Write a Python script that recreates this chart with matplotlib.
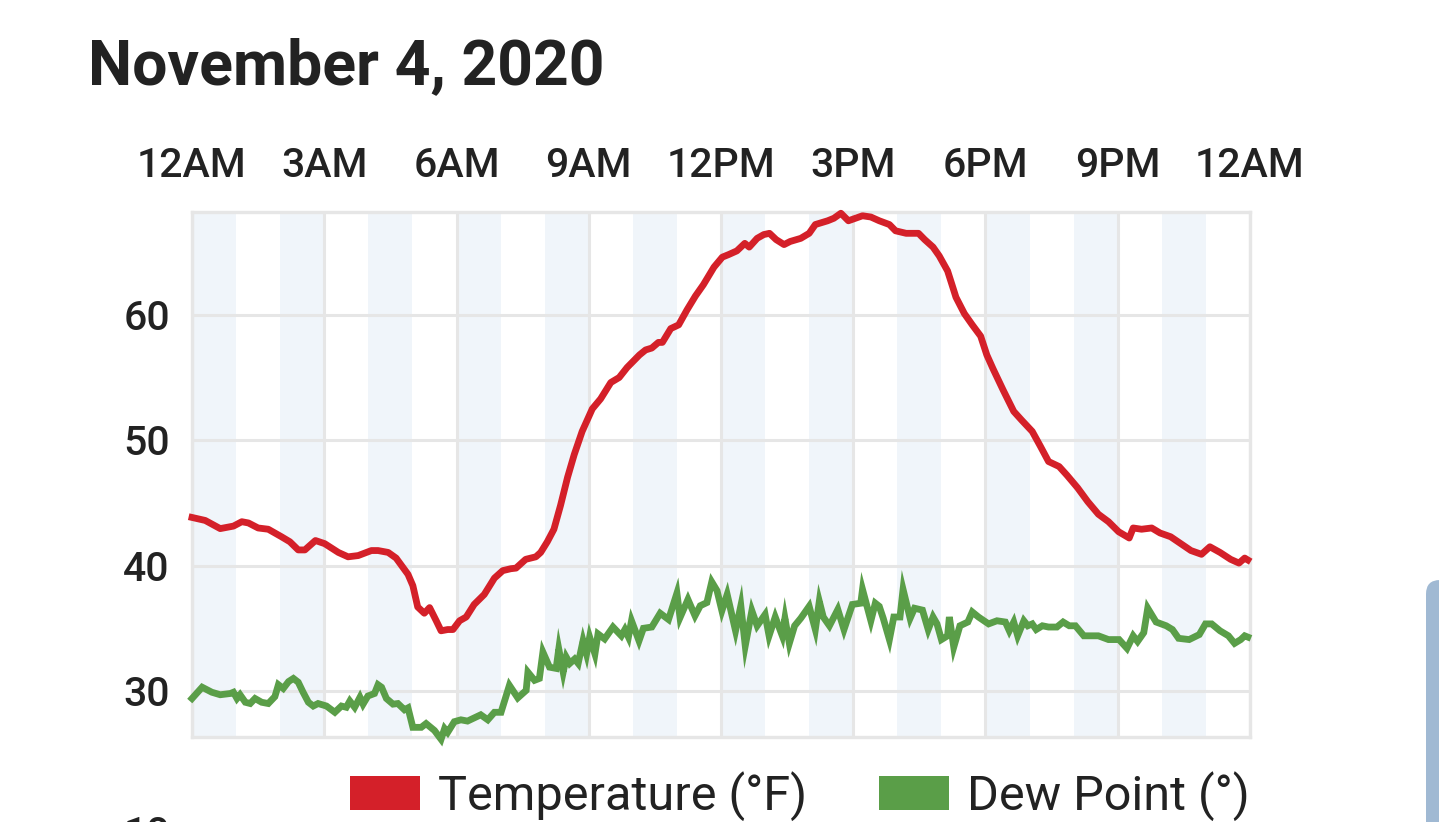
import matplotlib
matplotlib.use("Agg")
import matplotlib.pyplot as plt
from matplotlib.patches import Patch, FancyBboxPatch
from matplotlib.transforms import IdentityTransform

plt.rcParams['font.family'] = ['Roboto', 'DejaVu Sans']

# hours since midnight and readings
temp_hours = [0, 0.3, 0.64, 0.94, 1.13, 1.28, 1.5, 1.73, 2.03, 2.22,
              2.41, 2.56, 2.8, 3.01, 3.32, 3.54, 3.77, 4.07, 4.22, 4.45,
              4.63, 4.9, 5.01, 5.12, 5.27, 5.39, 5.54, 5.65, 5.8, 5.92,
              6.07, 6.22, 6.4, 6.63, 6.86, 7.05, 7.23, 7.35, 7.57, 7.8,
              7.91, 8.06, 8.21, 8.36, 8.52, 8.67, 8.85, 9.08, 9.27, 9.5,
              9.69, 9.87, 10.15, 10.29, 10.43, 10.58, 10.67, 10.86, 11.04, 11.23,
              11.42, 11.6, 11.84, 12.03, 12.17, 12.36, 12.54, 12.64, 12.82, 12.97,
              13.1, 13.25, 13.43, 13.57, 13.81, 14.0, 14.14, 14.42, 14.56, 14.72,
              14.89, 15.21, 15.4, 15.59, 15.82, 15.96, 16.2, 16.48, 16.62, 16.81,
              16.95, 17.14, 17.24, 17.33, 17.52, 17.7, 17.89, 18.03, 18.17, 18.4,
              18.64, 18.82, 19.06, 19.24, 19.43, 19.67, 19.85, 20.09, 20.32, 20.56,
              20.79, 21.02, 21.26, 21.35, 21.54, 21.77, 21.96, 22.2, 22.43, 22.66,
              22.9, 23.09, 23.32, 23.56, 23.75, 23.88, 23.95]
temp_vals = [43.84, 43.6, 42.95, 43.15, 43.5, 43.4, 43.0, 42.9, 42.3, 41.9,
             41.25, 41.25, 42.0, 41.75, 41.05, 40.7, 40.8, 41.2, 41.2, 41.05,
             40.6, 39.3, 38.4, 36.7, 36.2, 36.65, 35.6, 34.8, 34.9, 34.9,
             35.6, 35.9, 36.9, 37.7, 39.0, 39.6, 39.75, 39.8, 40.5, 40.7,
             41.05, 41.9, 42.9, 44.8, 47.05, 48.85, 50.7, 52.5, 53.3, 54.6,
             55.0, 55.8, 56.8, 57.2, 57.35, 57.8, 57.8, 58.9, 59.2, 60.4,
             61.5, 62.4, 63.8, 64.6, 64.8, 65.1, 65.7, 65.4, 66.1, 66.4,
             66.5, 66.0, 65.6, 65.85, 66.1, 66.5, 67.2, 67.5, 67.7, 68.1,
             67.5, 67.9, 67.8, 67.5, 67.2, 66.7, 66.5, 66.5, 66.0, 65.4,
             64.7, 63.5, 62.4, 61.4, 60.1, 59.2, 58.3, 56.8, 55.7, 54.0,
             52.3, 51.6, 50.7, 49.55, 48.3, 47.9, 47.2, 46.2, 45.1, 44.1,
             43.5, 42.7, 42.2, 43.0, 42.9, 43.0, 42.6, 42.3, 41.75, 41.2,
             40.9, 41.5, 41.05, 40.5, 40.2, 40.6, 40.45]

dew_hours = [0, 0.23, 0.45, 0.64, 0.87, 0.94, 1.02, 1.09, 1.21, 1.32,
             1.43, 1.58, 1.73, 1.88, 1.96, 2.07, 2.19, 2.3, 2.41, 2.52,
             2.64, 2.75, 2.86, 3.05, 3.24, 3.39, 3.5, 3.58, 3.69, 3.81,
             3.88, 3.99, 4.14, 4.22, 4.3, 4.41, 4.56, 4.67, 4.82, 4.9,
             5.01, 5.2, 5.31, 5.5, 5.65, 5.73, 5.8, 5.95, 6.1,
             6.25, 6.55, 6.71, 6.86, 7.01, 7.2, 7.39, 7.58, 7.62, 7.77,
             7.88, 7.96, 8.11, 8.26, 8.32, 8.42, 8.49, 8.57, 8.68, 8.76,
             8.87, 8.95, 9.02, 9.14, 9.21, 9.36, 9.55, 9.74, 9.82, 9.9,
             9.97, 10.14, 10.24, 10.43, 10.62, 10.81, 11.0, 11.07, 11.25, 11.41,
             11.53, 11.68, 11.79, 11.91, 12.02, 12.14, 12.33, 12.45, 12.55, 12.7,
             12.82, 13.0, 13.09,
             13.23, 13.39, 13.45, 13.55, 13.67, 13.81, 14.0, 14.14, 14.23, 14.32,
             14.46, 14.65, 14.79, 14.98, 15.17, 15.21, 15.4, 15.5, 15.59, 15.68,
             15.82, 15.92, 16.06, 16.13, 16.29, 16.39, 16.57, 16.7, 16.81, 16.9,
             17.0, 17.14, 17.18, 17.28, 17.42, 17.6, 17.7, 17.84, 18.07, 18.26,
             18.45, 18.54, 18.64, 18.73, 18.87, 18.96, 19.06, 19.15, 19.29, 19.43,
             19.62, 19.76, 19.9, 20.04, 20.23, 20.56, 20.79, 21.03, 21.21, 21.35,
             21.45, 21.59, 21.68, 21.87, 22.1, 22.24, 22.38, 22.62, 22.85, 22.99,
             23.13, 23.32, 23.51, 23.65, 23.79, 23.88, 23.95]
dew_vals = [29.4, 30.3, 29.9, 29.7, 29.8, 29.9, 29.4, 29.7, 29.1, 29.0,
            29.4, 29.1, 29.0, 29.55, 30.5, 30.2, 30.75, 31.0, 30.7, 29.9,
            29.1, 28.8, 29.0, 28.8, 28.3, 28.8, 28.7, 29.2, 28.7, 29.5,
            28.95, 29.6, 29.8, 30.5, 30.3, 29.4, 28.95, 29.0, 28.5, 28.65,
            27.1, 27.1, 27.4, 26.85, 26.15, 27.0, 26.7, 27.55, 27.7,
            27.6, 28.1, 27.7, 28.3, 28.3, 30.45, 29.45, 30.05, 31.5, 30.85,
            31.0, 33.1, 31.9, 31.8, 33.35, 31.5, 32.7, 32.2, 32.55, 32.2,
            34.0, 32.95, 34.3, 32.95, 34.55, 34.15, 35.1, 34.4, 34.9, 34.3,
            35.6, 34.0, 35.0, 35.1, 36.2, 35.7, 37.8, 35.85, 37.3, 36.0,
            36.8, 37.05, 38.7, 38.0, 36.4, 37.7, 34.8, 36.8, 33.6, 36.4,
            35.2, 36.1, 34.4,
            35.9, 34.4, 35.8, 33.8, 35.2, 35.8, 36.75, 34.9, 37.15, 35.9,
            35.2, 36.5, 34.9, 36.9, 37.0, 38.1, 35.6, 37.0, 36.75, 35.8,
            34.1, 35.9, 35.9, 38.1, 35.8, 36.6, 36.45, 34.9, 35.9, 35.35,
            34.1, 34.4, 35.9, 33.5, 35.2, 35.5, 36.3, 35.9, 35.35, 35.6,
            35.5, 34.8, 35.5, 34.4, 35.6, 35.2, 35.35, 34.9, 35.2, 35.1,
            35.1, 35.5, 35.2, 35.2, 34.4, 34.4, 34.1, 34.1, 33.4, 34.4,
            33.95, 34.65, 36.6, 35.5, 35.2, 34.9, 34.2, 34.1, 34.5, 35.35,
            35.35, 34.8, 34.4, 33.8, 34.1, 34.4, 34.3]

tick_hours = [0, 3, 6, 9, 12, 15, 18, 21, 24]
tick_labels = ['12AM', '3AM', '6AM', '9AM', '12PM', '3PM', '6PM', '9PM', '12AM']
y_ticks = [30, 40, 50, 60]

red = '#d42029'
green = '#5a9e48'
grid_c = '#e6e6e6'
text_c = '#222222'

fig = plt.figure(figsize=(14.39, 8.22), dpi=100)
ax = fig.add_axes([192 / 1439, 1 - 737 / 822, 1058 / 1439, 525 / 822])

# light shading on every other hour
for h in range(0, 24, 2):
    ax.axvspan(h, h + 1, color='#f0f5fa', lw=0, zorder=0.1)

ax.plot(temp_hours, temp_vals, color=red, lw=4.9, zorder=3, clip_on=False,
        solid_joinstyle='round')
ax.plot(dew_hours, dew_vals, color=green, lw=4.9, zorder=3, clip_on=False,
        solid_joinstyle='miter')

ax.set_xlim(0, 24)
ax.set_ylim(26.33, 68.2)
ax.set_xticks(tick_hours)
ax.set_xticklabels(tick_labels, fontweight='medium')
ax.set_yticks(y_ticks)
ax.set_yticklabels([str(v) for v in y_ticks], fontweight='medium')
ax.xaxis.tick_top()
ax.tick_params(axis='x', length=0, pad=19.5, labelsize=29.5, labelcolor=text_c)
ax.tick_params(axis='y', length=0, pad=16, labelsize=29.5, labelcolor=text_c)
ax.set_axisbelow(True)
ax.grid(True, color=grid_c, lw=2.2)
for s in ax.spines.values():
    s.set_color(grid_c)
    s.set_linewidth(2.4)

fig.text(88 / 1439, 1 - 84 / 822, 'November 4, 2020', fontsize=45,
         fontweight='bold', color=text_c, va='baseline', ha='left')

handles = [Patch(facecolor=red, edgecolor='none', label='Temperature (°F)'),
           Patch(facecolor=green, edgecolor='none', label='Dew Point (°)')]
fig.legend(handles=handles, loc='center', bbox_to_anchor=(800 / 1439, 1 - 796 / 822),
           ncol=2, frameon=False, fontsize=35, handlelength=1.44, handleheight=0.72,
           handletextpad=0.37, columnspacing=1.48, borderpad=0, labelcolor=text_c)

# next tick label peeking in at the bottom edge
fig.text(170 / 1439, 1 - 846 / 822, '10', fontsize=29.5, color=text_c,
         fontweight='medium', ha='right', va='baseline')

# scrollbar sliver on the right edge
fig.patches.append(FancyBboxPatch((1426, -30), 60, 822 - 580 + 30,
                                  boxstyle='round,pad=0,rounding_size=14',
                                  facecolor='#a0b9d3', edgecolor='none',
                                  transform=IdentityTransform(), figure=fig))

fig.savefig('out.png', dpi=100, facecolor='white')
